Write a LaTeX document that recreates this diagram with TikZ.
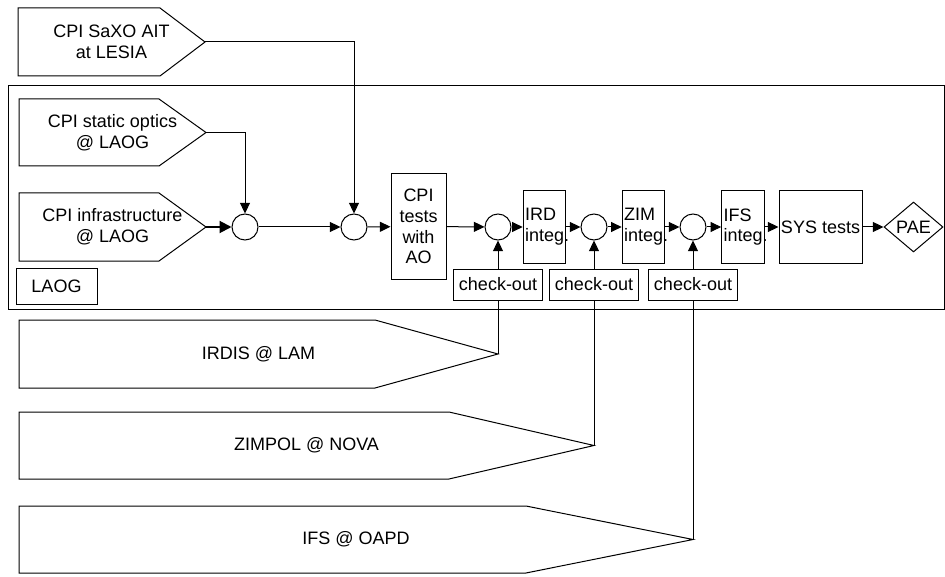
\documentclass[tikz,border=0pt]{standalone}
\usepackage{fontspec}
\setmainfont{Liberation Sans}
\usetikzlibrary{arrows.meta,shapes.geometric}

\begin{document}
\begin{tikzpicture}[
  x=0.75pt, y=-0.75pt,
  line width=0.75pt,
  font=\fontsize{13.5}{15.5}\selectfont,
  lbl/.style={align=center, inner sep=0pt},
  box/.style={draw, align=center, inner sep=0pt},
  junc/.style={draw, circle, minimum size=19.5pt, inner sep=0pt},
  integ/.style={draw, align=left, text width=29pt, inner xsep=1.5pt, inner ysep=0pt, minimum height=54pt},
  chk/.style={draw, minimum width=66.75pt, minimum height=23.25pt, inner sep=0pt},
  arr/.style={-{Triangle[length=8pt, width=7.5pt]}},
  bigarr/.style={line width=1.5pt, -{Triangle[length=9pt, width=9pt]}}]
\useasboundingbox (0,0) rectangle (945,577);
% LAOG area
\draw (8,86) rectangle (944,309);
\node[box, minimum width=60.75pt, minimum height=27pt] (laog) at (56.5,286) {LAOG};
% incoming subsystems
\foreach \n/\xa/\xs/\xt/\ya/\yb/\t in {
    saxo/18/160/205/8/76/{CPI SaXO AIT\\at LESIA},
    static/19/159/206/99/166/{CPI static optics\\@ LAOG},
    infra/19/159/206/193/261/{CPI infrastructure\\@ LAOG},
    irdis/19/375/498/320/388/{IRDIS @ LAM},
    zimpol/19/449/594/412/479/{ZIMPOL @ NOVA},
    ifs/19/526/693/506/573/{IFS @ OAPD}} {
  \draw (\xa,\ya) -- (\xs,\ya) -- (\xt,{(\ya+\yb)/2}) -- (\xs,\yb) -- (\xa,\yb) -- cycle;
  \coordinate (\n-tip) at (\xt,{(\ya+\yb)/2});
  \node[lbl] (\n) at ({(\xa+\xt)/2},{(\ya+\yb)/2}) {\t};
}
% main chain
\node[junc] (c1) at (245,227) {};
\node[junc] (c2) at (354,227) {};
\node[box, minimum width=41.25pt, minimum height=78.75pt] (cpi) at (418.5,226.5) {CPI\\tests\\with\\AO};
\node[junc] (c3) at (498,227) {};
\node[integ] (ird) at (544.5,227) {IRD\\integ.};
\node[junc] (c4) at (594,227) {};
\node[integ] (zim) at (643.5,227) {ZIM\\integ.};
\node[junc] (c5) at (693,227) {};
\node[integ] (ifsi) at (743,227) {IFS\\integ.};
\node[box, minimum width=62.25pt, minimum height=54pt] (sys) at (820.5,227) {SYS tests};
\node[draw, diamond, aspect=1.18, minimum width=44.25pt, minimum height=37.5pt, inner sep=0pt] (pae) at (913.5,227) {PAE};
\node[chk] (chk1) at (498,284.5) {check-out};
\node[chk] (chk2) at (594,284.5) {check-out};
\node[chk] (chk3) at (693,284.5) {check-out};
% connectors
\draw[arr] (saxo-tip) -| (c2);
\draw[arr] (static-tip) -| (c1);
\draw[bigarr] (infra-tip) -- (c1);
\foreach \a/\b in {c1/c2, c2/cpi, cpi/c3, c3/ird, ird/c4, c4/zim, zim/c5, c5/ifsi, ifsi/sys, sys/pae}
  \draw[arr] (\a) -- (\b);
\foreach \c/\k/\s in {c3/chk1/irdis, c4/chk2/zimpol, c5/chk3/ifs} {
  \draw[arr] (\k) -- (\c);
  \draw (\s-tip) -- (\s-tip |- \k.south);
}
\end{tikzpicture}
\end{document}
